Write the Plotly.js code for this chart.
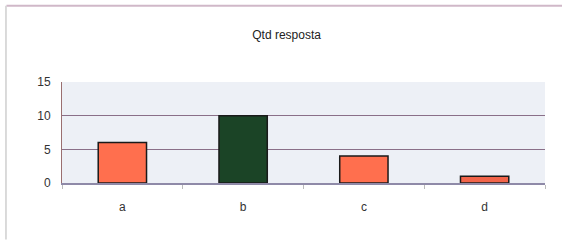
<!DOCTYPE html>
<html><head><meta charset="utf-8">
<script src="https://cdn.plot.ly/plotly-3.0.1.min.js"></script>
<style>html,body{margin:0;padding:0;background:#fff;}#chart{width:562px;height:243px;}</style>
</head><body><div id="chart"></div>
<script>
const categories = ['a', 'b', 'c', 'd'];
const values = [6, 10, 4, 1];
const barColors = ['#FF6F4E', '#1B4426', '#FF6F4E', '#F2644A'];
const yTicks = [0, 5, 10, 15];

const trace = {
  type: 'bar', x: categories, y: values,
  marker: {color: barColors, line: {color: '#1a1a1a', width: 1.5}},
  hoverinfo: 'none'
};
const layout = {
  width: 562, height: 243,
  margin: {l: 62, r: 17, t: 82, b: 60},
  paper_bgcolor: '#ffffff', plot_bgcolor: '#EDF0F6',
  bargap: 0.6,
  showlegend: false,
  font: {family: 'Liberation Sans, Arial, sans-serif', size: 12, color: '#333'},
  title: {text: 'Qtd resposta', x: 0.51, xanchor: 'center', y: 0.856, yanchor: 'middle',
          font: {size: 12, color: '#222'}},
  xaxis: {type: 'category', showgrid: false, showline: true, linecolor: '#8f8aa8', linewidth: 1.5,
          ticks: 'outside', tickson: 'boundaries', ticklen: 4, tickcolor: '#bbb',
          ticklabelstandoff: 12,
          tickfont: {size: 12, color: '#333'}, zeroline: false},
  yaxis: {range: [0, 15], tickvals: yTicks, showgrid: true, gridcolor: '#8a6f88', gridwidth: 1,
          showline: true, linecolor: '#9a6f70', linewidth: 1, zeroline: false,
          ticks: '', ticklen: 0, ticklabelstandoff: 8, tickfont: {size: 12, color: '#333'}},
  shapes: [
    {type: 'line', xref: 'paper', yref: 'paper', x0: -0.115, x1: 1.04, y0: 1.755, y1: 1.755,
     line: {color: '#d0b8c8', width: 2}},
    {type: 'line', xref: 'paper', yref: 'paper', x0: -0.116, x1: -0.116, y0: 1.755, y1: -0.56,
     line: {color: '#cfcfcf', width: 1.5}}
  ]
};
Plotly.newPlot('chart', [trace], layout, {displayModeBar: false, staticPlot: true});
</script></body></html>
